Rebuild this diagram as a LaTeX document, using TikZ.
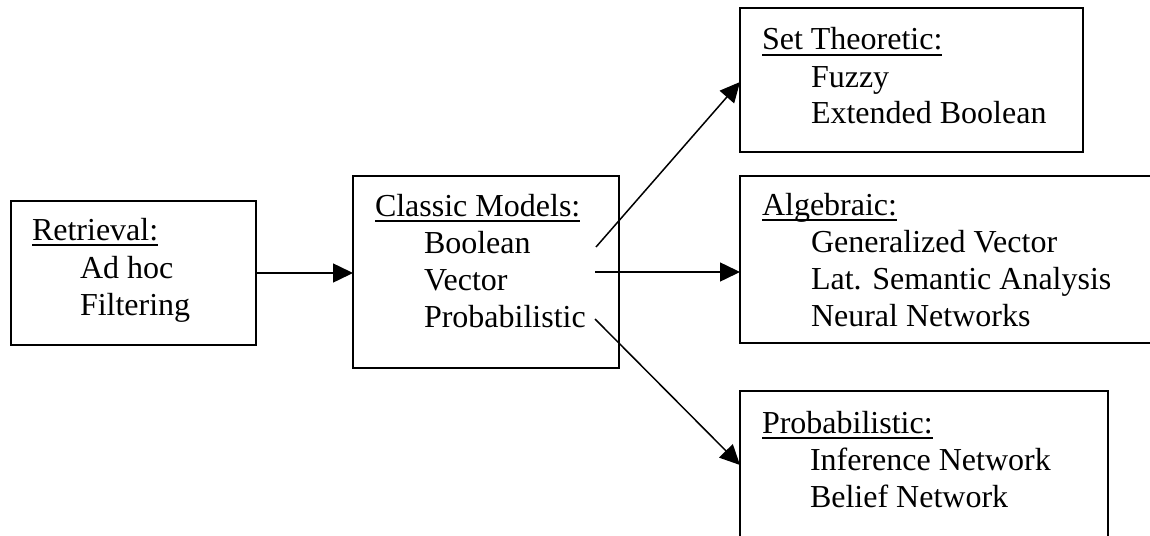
\documentclass[tikz,border=0pt]{standalone}
\usepackage{fontspec}
\setmainfont{Liberation Serif}
\usetikzlibrary{arrows.meta}
\begin{document}
\begin{tikzpicture}[x=1pt,y=-1pt,
  box/.style={draw, line width=1.6pt, anchor=north west, inner sep=0pt, outer sep=0pt},
  lbl/.style={anchor=base west, inner sep=0pt, outer sep=0pt, font=\fontsize{32}{37}\selectfont},
  uline/.style={line width=1.4pt},
  link/.style={line width=1.5pt, -{Triangle[length=20pt,width=19pt]}}
]
\useasboundingbox (0,0) rectangle (1150,535);
\clip (0,0) rectangle (1150,535);

% boxes
\node[box, minimum width=245pt, minimum height=144pt] (retrieval) at (11,201) {};
\node[box, minimum width=266pt, minimum height=192pt] (classic) at (353,176) {};
\node[box, minimum width=343pt, minimum height=144pt] (settheo) at (740,8) {};
\node[box, minimum width=440pt, minimum height=167pt] (algebraic) at (740,176) {};
\node[box, minimum width=368pt, minimum height=180pt] (probab) at (740,391) {};

% Retrieval
\node[lbl] (rh) at (32,240) {Retrieval:};
\node[lbl] (r1) at (80,278) {Ad hoc};
\node[lbl] (r2) at (80,315) {Filtering};

% Classic Models
\node[lbl] (ch) at (375,216) {Classic Models:};
\node[lbl] (c1) at (424,253) {Boolean};
\node[lbl] (c2) at (424,290) {Vector};
\node[lbl] (c3) at (424,327) {Probabilistic};

% Set Theoretic
\node[lbl] (sh) at (762,50) {Set Theoretic:};
\node[lbl] (s1) at (811,87) {Fuzzy};
\node[lbl] (s2) at (811,123) {Extended Boolean};

% Algebraic
\node[lbl] (ah) at (762,215) {Algebraic:};
\node[lbl] (a1) at (811,252) {Generalized Vector};
\node[lbl] (a2) at (811,289) {Lat. Semantic Analysis};
\node[lbl] (a3) at (811,326) {Neural Networks};

% Probabilistic
\node[lbl] (ph) at (762,433) {Probabilistic:};
\node[lbl] (p1) at (810,470) {Inference Network};
\node[lbl] (p2) at (810,507) {Belief Network};

% underlined headings
\foreach \h in {rh,ch,sh,ah,ph}
  \draw[uline] ([yshift=-5pt]\h.base west) -- ([yshift=-5pt]\h.base east);

% connectors
\coordinate (boolout) at (596,247);
\coordinate (vecout) at (595,272);
\coordinate (probout) at (595,319);

\draw[link] (retrieval.east) -- (retrieval.east -| classic.west);
\draw[link] (boolout) -- ([yshift=-2pt]settheo.west);
\draw[link] (vecout) -- (vecout -| algebraic.west);
\draw[link] (probout) -- ([yshift=-74pt]probab.north west);
\end{tikzpicture}
\end{document}
